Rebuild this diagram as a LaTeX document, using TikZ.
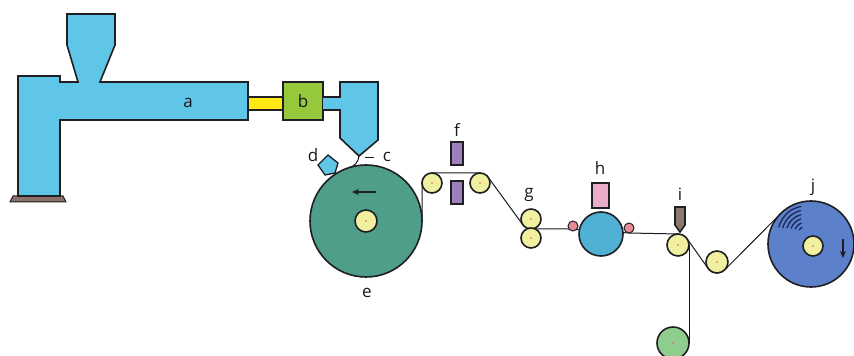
\documentclass[tikz,border=0pt]{standalone}
\usepackage{fontspec}
\setsansfont{Open Sans}
\usetikzlibrary{arrows.meta,backgrounds}

\definecolor{rim}{RGB}{30,30,35}
\definecolor{ink}{RGB}{25,25,30}
\definecolor{melt}{RGB}{96,198,232}
\definecolor{pump}{RGB}{150,200,60}
\definecolor{shaft}{RGB}{255,232,20}
\definecolor{plate}{RGB}{140,112,106}
\definecolor{cast}{RGB}{78,158,138}
\definecolor{hubc}{RGB}{240,240,160}
\definecolor{dotc}{RGB}{225,95,70}
\definecolor{elec}{RGB}{158,126,188}
\definecolor{coat}{RGB}{80,176,212}
\definecolor{pinkc}{RGB}{234,172,200}
\definecolor{nipc}{RGB}{232,140,150}
\definecolor{blade}{RGB}{140,122,112}
\definecolor{trimc}{RGB}{142,205,142}
\definecolor{wind}{RGB}{92,128,202}
\definecolor{layer}{RGB}{30,40,90}

\begin{document}
\begin{tikzpicture}[x=1pt,y=1pt,line width=1.6pt,
  part/.style={draw=rim,fill=melt},
  roll/.style={circle,draw=rim,inner sep=0pt,outer sep=0pt},
  hubdot/.style={path picture={\fill[dotc] (path picture bounding box.center) circle (0.9pt);}},
  roller/.style={roll,fill=hubc,hubdot,minimum size=20pt},
  box/.style={draw=rim,inner sep=0pt,outer sep=0pt},
  lbl/.style={font=\sffamily\fontsize{17}{20}\selectfont,text=ink,inner sep=0pt},
  film/.style={draw=ink,line width=1pt}]
\useasboundingbox (0,0) rectangle (854,356);

% extruder: stand, barrel with hopper, gear pump, die
\draw[draw=rim,fill=plate,line width=1pt] (10,154) -- (66,154) -- (63,160) -- (13,160) -- cycle;
\draw[part] (18,160) rectangle (60,280);
\draw[part] (59,274) -- (78,274) -- (67,311) -- (67,342) -- (115,342) -- (115,311)
  -- (100,274) -- (248,274) -- (248,236) -- (59,236);
\node[lbl] (a) at (188,253) {a};
\draw[box,fill=shaft] (248,246) rectangle (283,259);
\node[box,fill=pump,minimum width=40pt,minimum height=38pt,lbl] (b) at (303,255) {b};
\draw[part] (323,259) -- (340,259) -- (340,274) -- (378,274) -- (378,216) -- (359,200)
  -- (340,218) -- (340,246) -- (323,246);
\coordinate (tip) at (359,200);

% casting roll with air knife
\node[roll,fill=cast,minimum size=112pt] (e) at (366,135) {};
\node[roller,minimum size=22pt] (ehub) at (e) {};
\draw[-{Stealth[length=7pt,width=6pt]},line width=1.4pt,rim] (376,164) -- (352,164);
\draw[part,line width=1.3pt] (318,191) -- (328,201) -- (338,193) -- (335,183) -- (325,181) -- cycle;
\node[lbl] (d) at (313,201) {d};
\draw[ink,line width=1pt] (365,198) -- (374,198);
\node[lbl] (c) at (387,199) {c};
\node[lbl] (elbl) at (367,63) {e};

% treater rollers and electrodes
\node[roller] (f1) at (432,173) {};
\node[roller] (f2) at (480,173) {};
\node[box,fill=elec,minimum width=12pt,minimum height=23pt] (fu) at (457,202.5) {};
\node[box,fill=elec,minimum width=12pt,minimum height=23pt] (fd) at (457,163.5) {};
\node[lbl] (flbl) at (457,226) {f};

% nip rollers
\node[roller] (g1) at (531,137) {};
\node[roller] (g2) at (531,118) {};
\node[lbl] (glbl) at (529,161) {g};

% coating station
\node[roll,fill=coat,minimum size=44pt] (h) at (601,122) {};
\node[roll,fill=nipc,minimum size=10pt,line width=1pt] (pL) at (573,130) {};
\node[roll,fill=nipc,minimum size=10pt,line width=1pt] (pR) at (629,128) {};
\node[box,fill=pinkc,minimum width=17pt,minimum height=25pt] (hbox) at (600.5,160.5) {};
\node[lbl] (hlbl) at (600,188) {h};

% slitter
\draw[box,fill=blade] (675,149) -- (685,149) -- (685,131) -- (680,124) -- (675,131) -- cycle;
\node[roller,minimum size=22pt] (i) at (678,111) {};
\node[lbl] (ilbl) at (680,162) {i};
\node[roller,minimum size=22pt] (r2) at (717,94) {};
\node[roll,fill=trimc,hubdot,minimum size=32pt] (trim) at (673,13) {};

% winder
\node[roll,fill=wind,minimum size=86pt] (j) at (811,112) {};
\foreach \r/\a/\b in {8/118/150,12/112/156,16/108/160,20/104/163,24/102/165,28/100/166}
  \draw[layer,line width=1.3pt] (806,122) ++(\a:\r) arc[start angle=\a,end angle=\b,radius=\r];
\node[roller] (jhub) at (813,110) {};
\draw[-{Stealth[length=7pt,width=6pt]},line width=1.4pt,rim] (843,117) -- (843,98);
\node[lbl] (jlbl) at (813,169) {j};

% melt curtain and film web
\begin{pgfonlayer}{background}
\draw[film] (tip) to[bend left=35] (e.108);
\draw[film] (e.east) -- (f1.west) arc[start angle=180,end angle=90,radius=10pt]
  -- (f2.north) arc[start angle=90,end angle=36,radius=10pt]
  -- (g1.216) arc[start angle=216,end angle=270,radius=10pt]
  -- (pL.west |- g1.south) -- (pR.south) -- (i.north)
  arc[start angle=90,end angle=35,radius=11pt]
  -- (r2.215) arc[start angle=215,end angle=315,radius=11pt] -- (j.135);
\draw[film] (i.east) -- (trim.east);
\end{pgfonlayer}
\end{tikzpicture}
\end{document}
